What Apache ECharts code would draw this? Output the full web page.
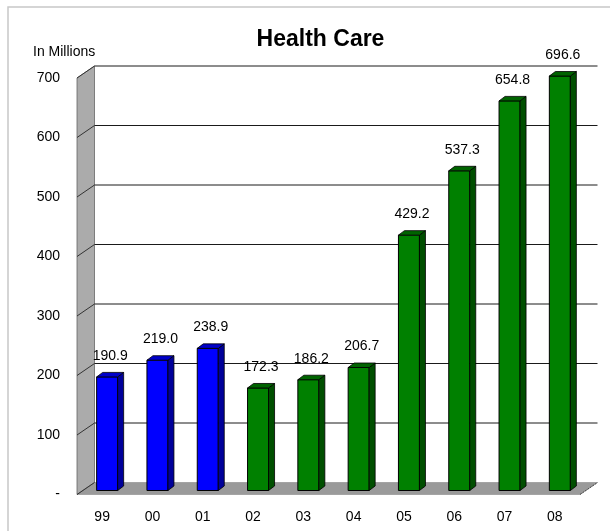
<!DOCTYPE html>
<html><head><meta charset="utf-8">
<script src="https://cdn.jsdelivr.net/npm/echarts@6/dist/echarts.min.js"></script>
<style>html,body{margin:0;padding:0;background:#fff}#c{width:610px;height:531px}</style>
</head><body><div id="c"></div>
<script>
// ---- data ----
const categories = ['99','00','01','02','03','04','05','06','07','08'];
const seriesBlue = [190.9, 219.0, 238.9, null, null, null, null, null, null, null];
const seriesGreen = [null, null, null, 172.3, 186.2, 206.7, 429.2, 537.3, 654.8, 696.6];
const yTicks = [0, 100, 200, 300, 400, 500, 600, 700];
const yTickLabels = ['-', '100', '200', '300', '400', '500', '600', '700'];
const titleText = 'Health Care';
const unitText = 'In Millions';

// ---- style ----
const FONT = "'Liberation Sans', Arial, sans-serif";
const DEPTH = [17.5, -12];     // back wall offset from the front plane
const BAR_SHIFT = [5, -4];     // bar front face offset from the front plane
const BAR_W = 21;
const BAR_D = [6, -4.5];       // bar depth
const COLORS = {
  blue:  { front: '#0000ff', side: '#00009a', top: '#0000c8' },
  green: { front: '#008000', side: '#004f00', top: '#006300' }
};

function toData(arr) {
  return categories.map((c, i) => [i, arr[i]]).filter(d => d[1] != null);
}

function backdropItem(params, api) {
  const cs = params.coordSys;
  const L = cs.x, R = cs.x + cs.width;
  const v = api.value(1);
  const y = api.coord([0, v])[1];
  const children = [];
  if (params.dataIndex === 0) {
    const y0 = api.coord([0, yTicks[0]])[1];
    const yT = api.coord([0, yTicks[yTicks.length - 1]])[1];
    children.push({
      type: 'polygon',
      shape: { points: [[L, y0], [R, y0], [R + DEPTH[0], y0 + DEPTH[1]], [L + DEPTH[0], y0 + DEPTH[1]]] },
      style: { fill: '#9a9a9a', stroke: '#8a8a8a', lineWidth: 0.6 }
    });
    children.push({
      type: 'polygon',
      shape: { points: [[L, y0], [L, yT], [L + DEPTH[0], yT + DEPTH[1]], [L + DEPTH[0], y0 + DEPTH[1]]] },
      style: { fill: '#ababab', stroke: '#666', lineWidth: 0.8 }
    });
    children.push({
      type: 'line',
      shape: { x1: R, y1: y0, x2: R + DEPTH[0], y2: y0 + DEPTH[1] },
      style: { stroke: '#444', lineWidth: 1, lineDash: [2, 1] }
    });
  } else {
    children.push({
      type: 'line',
      shape: { x1: L + DEPTH[0], y1: y + DEPTH[1], x2: R + DEPTH[0], y2: y + DEPTH[1] },
      style: { stroke: '#1a1a1a', lineWidth: 1 }
    });
  }
  children.push({
    type: 'line',
    shape: { x1: L, y1: y, x2: L + DEPTH[0], y2: y + DEPTH[1] },
    style: { stroke: '#333', lineWidth: 1 }
  });
  return { type: 'group', children };
}

function barRenderer(col) {
  return function (params, api) {
    const i = api.value(0), v = api.value(1);
    const c0 = api.coord([i, 0]);
    const c1 = api.coord([i, v]);
    const cx = c0[0] + BAR_SHIFT[0];
    const yb = c0[1] + BAR_SHIFT[1];
    const yt = c1[1] + BAR_SHIFT[1];
    const x0 = cx - BAR_W / 2, x1 = cx + BAR_W / 2;
    return {
      type: 'group',
      children: [
        { type: 'rect', shape: { x: x0, y: yt, width: BAR_W, height: yb - yt },
          style: { fill: col.front, stroke: '#000', lineWidth: 1 } },
        { type: 'polygon', shape: { points: [[x1, yb], [x1, yt], [x1 + BAR_D[0], yt + BAR_D[1]], [x1 + BAR_D[0], yb + BAR_D[1]]] },
          style: { fill: col.side, stroke: '#000', lineWidth: 0.8 } },
        { type: 'polygon', shape: { points: [[x0, yt], [x1, yt], [x1 + BAR_D[0], yt + BAR_D[1]], [x0 + BAR_D[0], yt + BAR_D[1]]] },
          style: { fill: col.top, stroke: '#000', lineWidth: 0.8 } },
        { type: 'text', style: { text: v.toFixed(1), x: cx + 3, y: yt - 21, align: 'center', verticalAlign: 'middle',
          font: '14px ' + FONT, fill: '#000' } }
      ]
    };
  };
}

const chart = echarts.init(document.getElementById('c'), null, { renderer: 'canvas' });
chart.setOption({
  backgroundColor: '#fff',
  animation: false,
  grid: { left: 77, right: 30, top: 78, bottom: 36.5, outerBoundsMode: 'none' },
  xAxis: {
    type: 'category', data: categories, boundaryGap: true,
    axisLine: { show: false }, axisTick: { show: false }, splitLine: { show: false },
    axisLabel: { margin: 16, fontSize: 14, color: '#000', fontFamily: FONT }
  },
  yAxis: {
    type: 'value', min: 0, max: 700, interval: 100,
    axisLine: { show: false }, axisTick: { show: false }, splitLine: { show: false },
    axisLabel: { margin: 17, fontSize: 14, color: '#000', fontFamily: FONT, padding: [6, 0, 0, 0],
      formatter: v => yTickLabels[yTicks.indexOf(v)] }
  },
  graphic: [
    { type: 'rect', shape: { x: 8, y: 7, width: 640, height: 560 }, style: { fill: 'none', stroke: '#c8c8c8', lineWidth: 1.5 }, z: -10 },
    { type: 'text', style: { text: titleText, x: 320.5, y: 39.3, align: 'center', verticalAlign: 'middle', font: 'bold 23px ' + FONT, fill: '#000' } },
    { type: 'text', style: { text: unitText, x: 33, y: 52, align: 'left', verticalAlign: 'middle', font: '14px ' + FONT, fill: '#000' } }
  ],
  series: [
    { type: 'custom', name: 'backdrop', renderItem: backdropItem, encode: { x: 0, y: 1 },
      data: yTicks.map(v => [0, v]), silent: true, z: 1 },
    { type: 'custom', name: 'blue', renderItem: barRenderer(COLORS.blue), encode: { x: 0, y: 1 },
      data: toData(seriesBlue), z: 2 },
    { type: 'custom', name: 'green', renderItem: barRenderer(COLORS.green), encode: { x: 0, y: 1 },
      data: toData(seriesGreen), z: 2 }
  ]
});
</script></body></html>
